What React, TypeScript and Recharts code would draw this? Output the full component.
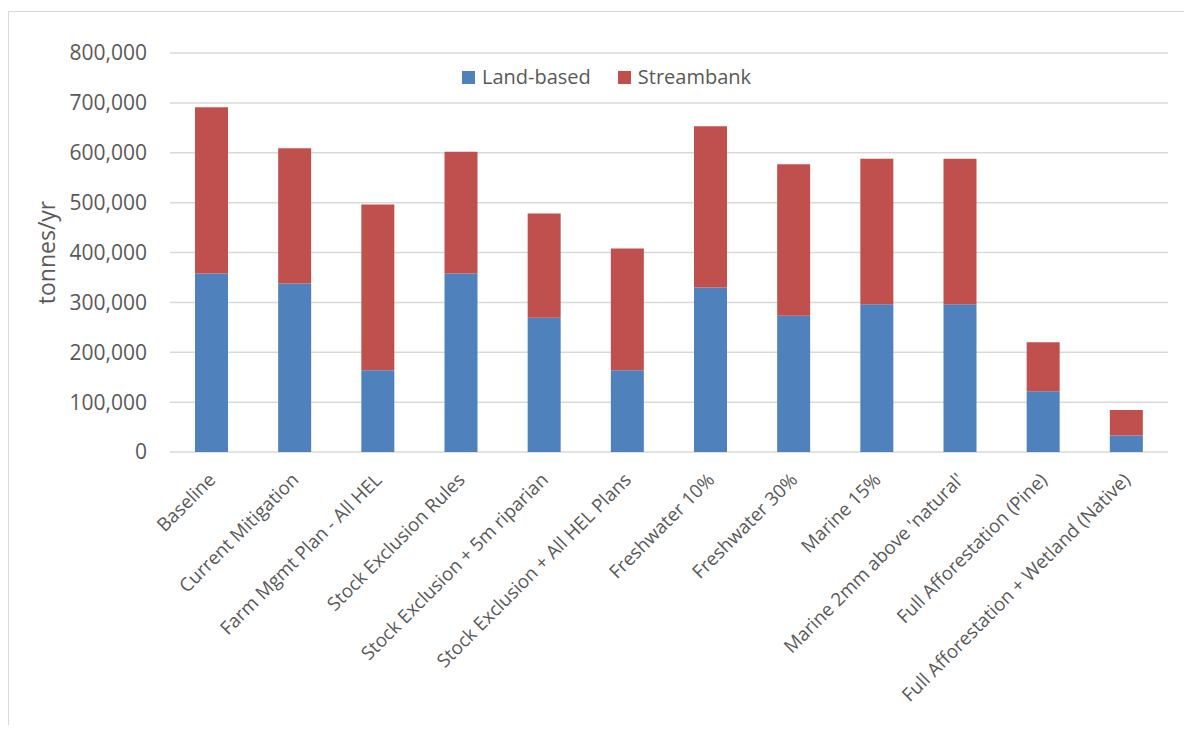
import React from 'react';
import { BarChart, Bar, XAxis, YAxis, CartesianGrid, Legend, Label } from 'recharts';

// Sediment load by scenario (tonnes/yr)
const categories = [
  'Baseline',
  'Current Mitigation',
  'Farm Mgmt Plan - All HEL',
  'Stock Exclusion Rules',
  'Stock Exclusion + 5m riparian',
  'Stock Exclusion + All HEL Plans',
  'Freshwater 10%',
  'Freshwater 30%',
  'Marine 15%',
  "Marine 2mm above 'natural'",
  'Full Afforestation (Pine)',
  'Full Afforestation + Wetland (Native)',
];

const landBased = [358000, 338000, 164000, 358000, 269000, 164000, 330000, 273000, 296000, 296000, 122000, 33000];
const streambank = [333000, 271000, 332000, 244000, 209000, 244000, 323000, 304000, 292000, 292000, 98000, 51000];

const yTicks = [0, 100000, 200000, 300000, 400000, 500000, 600000, 700000, 800000];

const seriesNames = { land: 'Land-based', stream: 'Streambank' };
const BLUE = '#4F81BD';
const RED = '#C0504D';
const TEXT = '#595959';
const GRID = '#d9d9d9';
const FONT = '"Open Sans", "Noto Sans", sans-serif';

const data = categories.map((category, i) => ({
  category,
  land: landBased[i],
  stream: streambank[i],
}));

const formatThousands = (v: number) => v.toLocaleString('en-US');

const CategoryTick = (props: any) => {
  const { x, y, payload } = props;
  return (
    <g transform={`translate(${x + 5},${y + 29})`}>
      <text transform="rotate(-45)" textAnchor="end" fontSize={18.7} fill={TEXT} fontFamily={FONT}>
        {payload.value}
      </text>
    </g>
  );
};

const LEGEND_H = 24;

const LegendContent = () => (
  <div style={{ display: 'flex', alignItems: 'center', height: LEGEND_H, fontFamily: FONT, fontSize: 20, color: TEXT }}>
    {[
      { name: seriesNames.land, color: BLUE },
      { name: seriesNames.stream, color: RED },
    ].map((item, i) => (
      <div key={item.name} style={{ display: 'flex', alignItems: 'center', marginLeft: i === 0 ? 0 : 27 }}>
        <span style={{ width: 13, height: 13, background: item.color, display: 'inline-block', marginRight: 7 }} />
        <span style={{ lineHeight: `${LEGEND_H}px` }}>{item.name}</span>
      </div>
    ))}
  </div>
);

const AxisTitle = (props: any) => {
  const vb = props.viewBox || { x: 0, y: 0, width: 0, height: 0 };
  const cx = vb.x + 37;
  const cy = vb.y + vb.height / 2;
  return (
    <text
      x={cx}
      y={cy}
      transform={`rotate(-90 ${cx} ${cy})`}
      textAnchor="middle"
      dominantBaseline="central"
      fontSize={23}
      fill={TEXT}
      fontFamily={FONT}
    >
      tonnes/yr
    </text>
  );
};

export default function App() {
  return (
    <div
      style={{
        marginLeft: -1,
        marginTop: 3,
        width: 1176,
        height: 713,
        borderLeft: '2px solid #d9d9d9',
        borderTop: '1px solid #d9d9d9',
        background: '#fff',
        fontFamily: FONT,
      }}
    >
      <BarChart
        width={1176}
        height={713}
        data={data}
        margin={{ top: 41 - LEGEND_H, right: 17, bottom: 0, left: 0 }}
        barSize={33}
      >
        <CartesianGrid vertical={false} stroke={GRID} strokeWidth={1.5} />
        <XAxis
          dataKey="category"
          interval={0}
          tickLine={false}
          axisLine={false}
          tickSize={0}
          tickMargin={0}
          height={273}
          tick={<CategoryTick />}
        />
        <YAxis
          width={161}
          domain={[0, 800000]}
          ticks={yTicks}
          tickFormatter={formatThousands}
          tickLine={false}
          axisLine={false}
          tickSize={0}
          tickMargin={23}
          tick={{ fontSize: 21, fill: TEXT, fontFamily: FONT }}
        >
          <Label content={<AxisTitle />} />
        </YAxis>
        <Legend
          verticalAlign="top"
          align="left"
          content={<LegendContent />}
          wrapperStyle={{ top: 53, left: 453, width: 'auto' }}
        />
        <Bar dataKey="land" name={seriesNames.land} stackId="a" fill={BLUE} isAnimationActive={false} />
        <Bar dataKey="stream" name={seriesNames.stream} stackId="a" fill={RED} isAnimationActive={false} />
      </BarChart>
    </div>
  );
}
